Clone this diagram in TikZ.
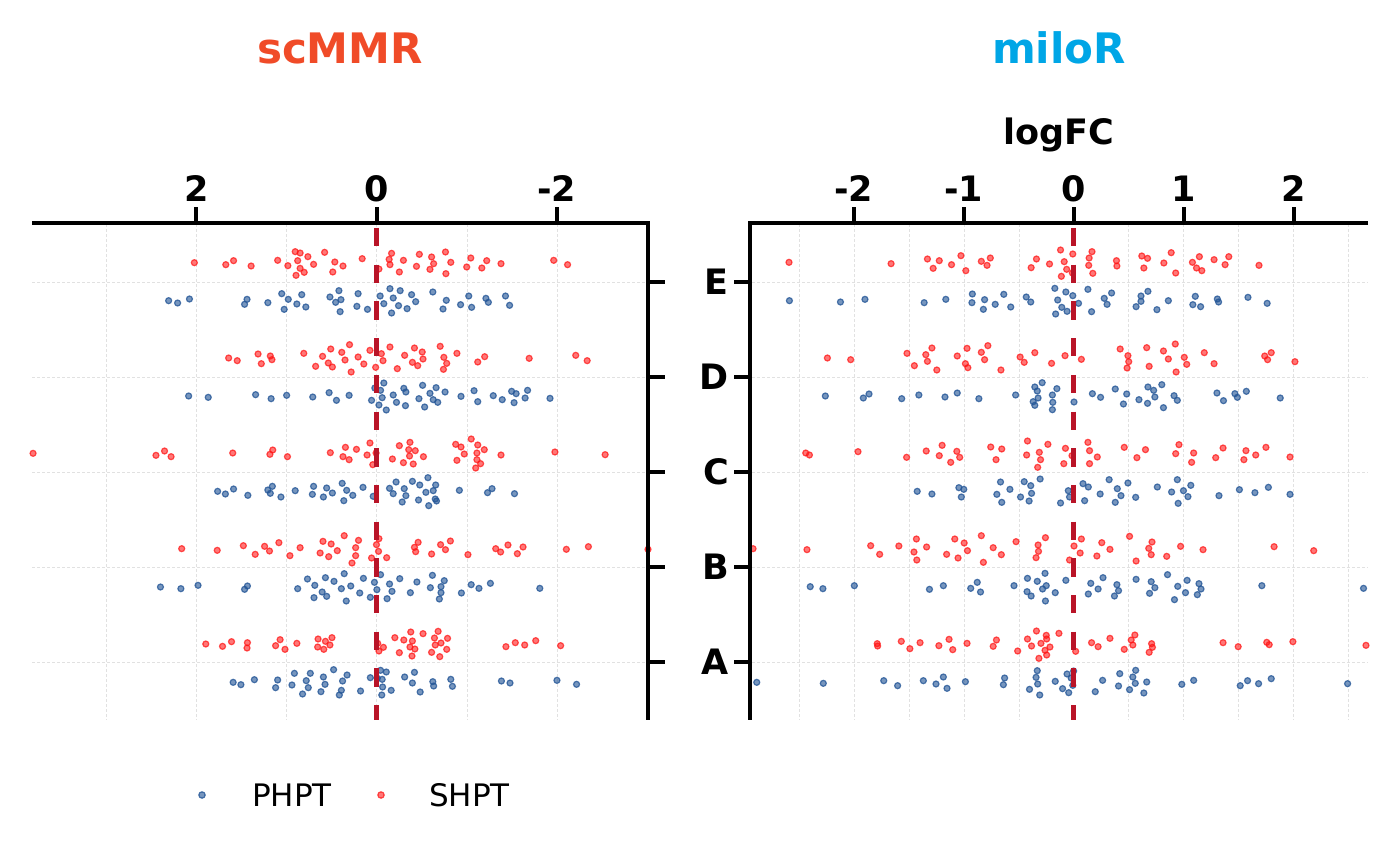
\documentclass[tikz,border=0pt]{standalone}
\usepackage{fontspec}
\setmainfont{DejaVu Sans}
\definecolor{shred}{RGB}{255,20,20}
\definecolor{phblue}{RGB}{35,85,150}
\definecolor{zerored}{RGB}{185,20,40}
\definecolor{scmmrcol}{RGB}{240,75,40}
\definecolor{milorcol}{RGB}{0,166,230}
\definecolor{gridcol}{RGB}{225,225,225}
\newcommand\dotrow[4]{\foreach \a/\b in {#4} {\path[#1] ({#2+\a/2.449},{#3+\b/3}) circle[radius=3.0];}}
\tikzset{
  sh/.style={fill=shred, draw=shred, fill opacity=0.58, draw opacity=0.72, line width=1.2},
  ph/.style={fill=phblue, draw=phblue, fill opacity=0.62, draw opacity=0.78, line width=1.2},
  gridline/.style={draw=gridcol, line width=0.8, dash pattern=on 3 off 2},
  zeroline/.style={draw=zerored, line width=4.2, dash pattern=on 18.35 off 18.35},
  axisline/.style={draw=black, line width=4.4, line join=miter},
  tickline/.style={draw=black, line width=4},
  ticklab/.style={font=\fontsize{35}{40}\selectfont\bfseries, inner sep=0pt, anchor=base},
  catlab/.style={font=\fontsize{35}{40}\selectfont\bfseries, inner sep=0pt, anchor=east},
  titlelab/.style={font=\fontsize{42}{48}\selectfont\bfseries, inner sep=0pt, anchor=base},
  leglab/.style={font=\fontsize{31}{36}\selectfont, inner sep=0pt, anchor=base west}
}
\begin{document}
\begin{tikzpicture}[x=1pt,y=-1pt]
\useasboundingbox (0,0) rectangle (1400,866);
% ---------- grids ----------
\foreach \gx in {106.5,196.3,286.5,376.7,467.8,557.6} {\draw[gridline] (\gx,224) -- (\gx,720);}
\foreach \gx in {799.6,854.7,909.5,964.2,1018.9,1128.7,1183.5,1238.2,1292.9,1348} {\draw[gridline] (\gx,224) -- (\gx,720);}
\foreach \gy in {282,377,472,567,662} {
  \draw[gridline] (32,\gy) -- (646,\gy);
  \draw[gridline] (752,\gy) -- (1368,\gy);
}
% ---------- left panel points ----------
% E
\dotrow{sh}{20}{230}{427/98,504/104,523/92,566/108,631/91,656/107,674/65,686/69,680/92,686/115,696/127,676/136,705/80,719/103,746/67,771/96,766/126,791/108,838/86,879/117,904/88,910/70,906/104,929/126,939/91,971/109,978/73,1004/118,1008/81,1013/101,1042/66,1043/131,1055/97,1094/111,1104/84,1131/114,1143/92,1178/101,1307/91,1341/104}
\dotrow{ph}{20}{230}{364/212,386/219,415/207,550/223,556/208,607/218,641/191,657/208,647/238,678/222,690/194,700/231,759/201,781/182,773/217,786/209,784/245,828/191,825/229,851/238,882/198,891/221,906/176,914/204,910/249,931/182,927/227,948/236,959/194,969/215,1011/186,1044/211,1036/237,1079/224,1099/198,1106/232,1141/205,1147/217,1189/198,1199/226}
% D
\dotrow{sh}{20}{330}{511/84,532/92,583/72,591/101,613/78,617/89,695/70,724/109,741/79,755/99,761/57,765/111,788/67,796/90,807/44,811/126,828/81,842/102,857/61,871/112,885/71,889/92,906/51,924/116,942/76,961/97,966/54,974/107,985/66,987/87,1029/49,1038/82,1045/100,1037/118,1070/70,1121/96,1138/80,1247/85,1361/76,1389/92}
\dotrow{ph}{20}{330}{413/198,461/202,577/194,615/206,653/196,717/201,757/188,775/211,806/196,861/211,869/174,879/225,883/181,887/203,891/159,897/240,914/195,922/217,940/175,945/186,944/227,977/206,986/166,991/231,1004/190,1012/209,1019/173,1023/217,1041/186,1080/199,1112/182,1121/215,1159/197,1181/209,1204/184,1215/191,1210/218,1237/204,1243/181,1298/205}
% C
\dotrow{sh}{20}{425}{32/85,333/91,354/78,370/95,521/84,612/88,619/75,655/95,760/83,791/95,797/67,806/104,824/73,850/90,857/54,864/119,872/84,912/102,929/62,939/113,955/52,952/74,954/93,963/117,968/77,988/95,1067/58,1080/66,1070/106,1088/87,1105/42,1121/60,1119/84,1119/104,1137/74,1128/116,1116/129,1178/90,1310/81,1433/89}
\dotrow{ph}{20}{425}{484/199,503/207,523/192,558/211,607/195,618/184,613/205,639/216,674/197,719/184,716/208,751/189,743/216,765/204,789/175,800/196,793/227,815/211,840/187,865/214,905/190,914/206,921/171,941/191,945/212,936/231,961/169,979/180,976/225,994/202,999/158,1001/242,1012/197,1018/180,1017/222,1020/228,1076/196,1145/203,1156/191,1211/206}
% B
\dotrow{sh}{20}{520}{396/86,483/91,547/77,576/103,599/79,611/93,634/68,661/107,686/83,735/99,742/64,756/110,762/72,777/92,794/47,813/129,829/61,822/83,822/107,861/114,873/74,879/56,878/94,898/113,966/82,969/95,975/67,1008/102,1030/74,1042/89,1054/63,1097/104,1165/86,1177/96,1195/75,1218/101,1232/81,1338/88,1392/80,1538/88}
\dotrow{ph}{20}{520}{344/201,394/206,436/196,550/208,557/198,680/206,704/177,720/233,722/196,740/216,748/173,751/229,769/184,787/206,794/161,799/243,810/198,832/219,841/175,858/232,868/187,874/209,883/164,899/236,905/192,911/214,930/176,956/218,972/186,1005/203,1010/166,1027/237,1031/218,1031/200,1039/182,1081/219,1105/194,1124/205,1152/190,1273/205}
% A
\dotrow{sh}{20}{615}{455/87,496/94,518/80,557/83,556/99,626/92,637/74,649/103,678/85,730/72,729/96,744/103,748/79,759/90,764/68,876/85,879/108,890/97,918/68,929/113,940/75,957/51,961/78,955/96,967/102,960/123,987/56,1008/112,1015/69,1017/90,1024/49,1031/84,1028/125,1047/70,1045/103,1190/95,1213/83,1236/90,1263/77,1324/92}
\dotrow{ph}{20}{615}{522/202,541/209,574/194,631/195,626/218,666/210,672/175,701/197,706/218,692/237,711/175,737/230,743/186,747/208,768/164,782/240,787/226,790/198,801/180,834/228,858/188,875/190,883/166,887/193,888/216,886/240,897/171,909/226,942/186,961/204,966/172,980/231,1011/200,1013/213,1055/193,1059/214,1179/198,1200/204,1315/196,1363/208}
% ---------- right panel points ----------
% E
\dotrow{sh}{740}{230}{120/97,370/101,459/87,488/92,473/115,518/104,541/77,553/122,591/94,605/106,613/84,713/113,726/87,758/102,785/60,794/95,800/118,787/139,815/72,814/129,855/84,854/106,862/65,864/130,922/92,923/108,989/114,984/78,998/85,1038/99,1056/68,1067/129,1108/97,1118/114,1125/80,1131/122,1161/89,1188/104,1197/80,1271/106}
\dotrow{ph}{740}{230}{121/212,246/216,306/208,451/218,504/208,569/192,568/218,599/209,596/238,625/223,646/193,663/231,701/201,712/216,771/175,778/210,798/186,815/197,788/232,801/244,773/252,829/220,852/178,861/245,892/205,899/223,910/189,982/198,982/214,999/184,970/230,1021/239,1049/212,1115/199,1109/224,1128/230,1169/207,1172/216,1244/202,1291/220}
% D
\dotrow{sh}{740}{330}{214/84,271/89,409/70,427/107,455/74,459/94,470/54,482/120,532/78,552/101,556/55,558/113,591/67,599/89,607/47,639/120,686/81,696/97,722/68,763/100,796/77,836/88,931/57,950/77,952/95,948/114,996/53,1002/109,1037/63,1049/87,1066/42,1068/126,1088/82,1094/103,1137/68,1161/101,1285/78,1292/89,1301/68,1359/95}
\dotrow{ph}{740}{330}{209/198,302/204,316/192,396/206,438/195,502/201,532/189,585/206,675/195,722/171,728/183,740/158,776/176,718/215,730/204,722/226,765/195,766/217,765/239,818/216,863/191,883/202,919/177,947/192,939/222,977/209,999/171,998/220,1013/181,1016/201,1033/164,1037/233,1063/197,1071/211,1168/189,1184/212,1212/191,1218/202,1240/184,1323/204}
% C
\dotrow{sh}{740}{425}{161/84,170/90,289/80,408/97,456/78,488/92,495/61,516/112,531/79,538/97,614/66,627/104,641/72,704/48,702/90,729/127,733/82,736/104,754/58,793/116,797/70,813/92,852/52,856/77,856/116,875/96,941/67,972/98,993/74,1067/86,1075/59,1106/112,1111/84,1165/98,1183/69,1234/104,1239/77,1263/90,1288/67,1347/96}
\dotrow{ph}{740}{425}{434/199,470/207,536/188,548/193,542/216,629/208,641/232,638/171,661/193,687/216,696/170,712/182,714/205,708/228,735/162,785/234,804/197,807/216,840/176,853/186,844/227,882/207,904/164,924/191,933/212,919/232,950/174,969/217,1022/186,1057/201,1071/164,1086/197,1073/235,1097/215,1104/181,1173/212,1223/194,1261/203,1294/187,1347/208}
% B
\dotrow{sh}{740}{520}{32/86,164/89,320/77,342/103,389/78,426/96,432/57,433/120,457/81,506/103,526/57,534/114,549/69,557/92,591/47,596/127,620/83,640/104,676/65,725/113,730/75,731/94,748/53,807/120,818/78,836/57,833/99,874/108,886/68,906/88,954/49,970/123,1001/85,1009/66,1007/104,1045/109,1079/79,1134/89,1308/80,1405/92}
\dotrow{ph}{740}{520}{172/200,203/206,280/197,464/208,498/197,565/205,581/187,589/216,671/197,704/175,703/215,713/228,728/184,741/207,750/197,747/160,748/243,772/218,798/181,853/222,859/190,877/207,889/173,917/228,923/194,927/212,970/178,1003/220,1007/185,1016/203,1047/164,1064/239,1072/199,1091/218,1095/181,1120/224,1124/191,1129/207,1278/197,1527/205}
% A
\dotrow{sh}{740}{615}{336/86,337/93,395/79,416/101,441/83,487/92,512/73,521/104,556/85,620/94,628/75,680/108,704/72,714/93,726/48,737/85,732/130,750/61,751/72,747/106,751/120,759/96,781/55,822/109,861/83,877/95,906/70,941/103,958/75,962/90,967/60,1002/112,1008/86,1010/97,1183/83,1220/95,1290/82,1296/89,1354/80,1533/91}
\dotrow{ph}{740}{615}{41/202,204/205,352/197,386/212,449/197,480/207,498/186,507/220,552/200,645/209,648/189,709/223,725/187,728/167,729/207,734/240,772/199,790/221,801/177,805/233,811/189,817/168,815/211,870/230,888/196,927/213,930/176,954/224,962/186,969/166,968/205,989/234,996/201,1082/208,1111/196,1225/212,1243/197,1270/206,1301/191,1488/206}
% ---------- zero lines ----------
\coordinate (lz0) at (376.5,228);
\coordinate (lz1) at (376.5,720);
\coordinate (rz0) at (1073.5,228);
\coordinate (rz1) at (1073.5,720);
\draw[zeroline] (lz0) -- (lz1);
\draw[zeroline] (rz0) -- (rz1);
% ---------- axes ----------
\coordinate (lax0) at (32,223);
\coordinate (laxc) at (648,223);
\coordinate (lax1) at (648,720);
\coordinate (rax0) at (1368,223);
\coordinate (raxc) at (750,223);
\coordinate (rax1) at (750,720);
\draw[axisline] (lax0) -- (laxc) -- (lax1);
\draw[axisline] (rax0) -- (raxc) -- (rax1);
% top ticks
\foreach \tx/\tl [count=\i] in {196.3/2,376.5/0,556.7/-2} {
  \draw[tickline] (\tx,223) -- (\tx,207);
  \node[ticklab] (lt\i) at (\tx,202) {\tl};
}
\foreach \tx/\tl [count=\i] in {853.5/-2,963.5/-1,1073.5/0,1183.5/1,1293.5/2} {
  \draw[tickline] (\tx,223) -- (\tx,207);
  \node[ticklab] (rt\i) at (\tx,202) {\tl};
}
% category ticks
\foreach \cy/\cl in {282/E,377/D,472/C,567/B,662/A} {
  \draw[tickline] (648,\cy) -- (665,\cy);
  \draw[tickline] (734,\cy) -- (750,\cy);
  \node[catlab] (cat\cl) at (729,\cy) {\cl};
}
% ---------- titles ----------
\node[titlelab, text=scmmrcol] (t1) at (340,64) {scMMR};
\node[titlelab, text=milorcol] (t2) at (1059,64) {miloR};
\node[ticklab] (xl) at (1059,145) {logFC};
% ---------- legend ----------
\path[ph] (202,795) circle[radius=3.2];
\node[leglab] (lg1) at (252,806.5) {PHPT};
\path[sh] (381,795) circle[radius=3.2];
\node[leglab] (lg2) at (429,806.5) {SHPT};
\end{tikzpicture}
\end{document}
